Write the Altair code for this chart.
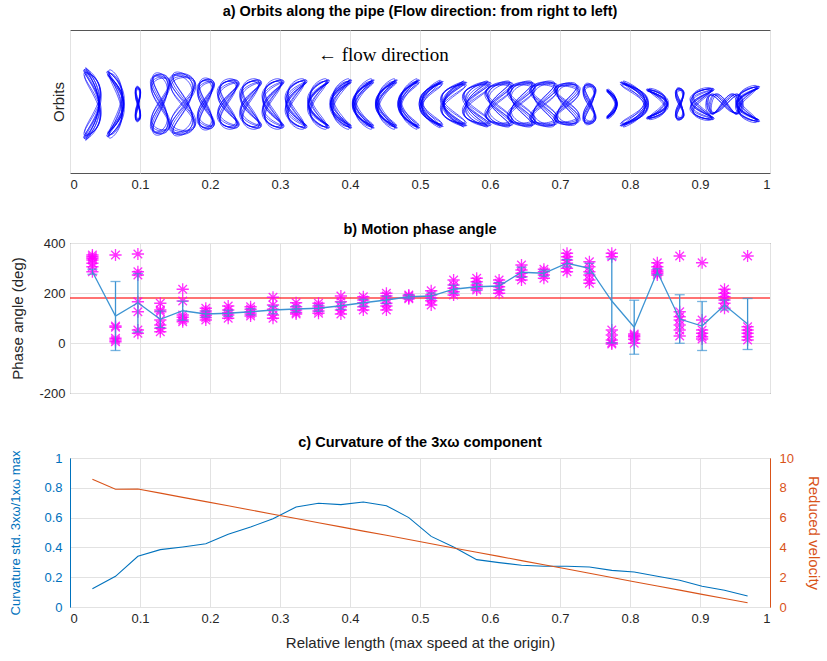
import altair as alt
import numpy as np
import pandas as pd

# ---------------- data ----------------
positions = [0.032, 0.065, 0.097, 0.129, 0.161, 0.194, 0.226, 0.258, 0.290, 0.323,
             0.355, 0.387, 0.419, 0.452, 0.484, 0.516, 0.548, 0.581, 0.613, 0.645,
             0.677, 0.710, 0.742, 0.774, 0.806, 0.839, 0.871, 0.903, 0.935, 0.968]

# b) phase angle: mean (blue line), half error bar, individual estimates (asterisks)
phase_mean = [285, 108, 161, 95, 129, 116, 119, 125, 132, 136,
              139, 149, 161, 172, 185, 188, 215, 225, 228, 283,
              279, 319, 299, 168, 63, 285, 96, 68, 152, 76]
phase_err = [10, 138, 117, 33, 38, 12, 12, 12, 15, 12,
             12, 14, 14, 15, 8, 12, 16, 14, 14, 20,
             12, 15, 20, 168, 108, 12, 97, 98, 20, 102]
phase_points = [
    [352, 345, 339, 332, 319, 305, 285],
    [352, 68, 63, 19, 12, 5],
    [356, 285, 272, 165, 125, 52, 39],
    [159, 132, 125, 92, 72, 59, 45],
    [215, 168, 112, 103, 92, 85],
    [139, 128, 119, 111, 102, 92],
    [148, 132, 121, 112, 99],
    [145, 135, 125, 116, 108],
    [183, 152, 135, 112, 99],
    [161, 145, 132, 122, 116],
    [159, 148, 139, 128, 119],
    [188, 165, 145, 132, 116],
    [185, 172, 161, 145, 132],
    [199, 188, 175, 159, 148, 132],
    [192, 188, 181, 177],
    [209, 192, 179, 169, 152],
    [252, 232, 219, 205, 192],
    [259, 245, 232, 219, 212],
    [252, 239, 225, 212, 199],
    [312, 292, 279, 265, 252],
    [295, 285, 272, 259],
    [359, 345, 332, 319, 299, 285],
    [325, 305, 285, 272, 252, 239],
    [359, 345, 52, 32, 12, 1, -4],
    [36, 30, 25, 15, -1],
    [321, 305, 292, 285, 279, 272],
    [348, 125, 105, 92, 72, 52, 28],
    [321, 92, 52, 39, 25, 16],
    [215, 199, 185, 172, 159, 139],
    [348, 65, 52, 39, 25, 12],
]
reference_angle = [180]

# c) curvature ratio (left axis) and reduced velocity (right axis)
curvature = [0.123, 0.206, 0.340, 0.385, 0.403, 0.425, 0.488, 0.537, 0.593, 0.671,
             0.696, 0.687, 0.705, 0.680, 0.600, 0.474, 0.403, 0.318, 0.298, 0.280,
             0.273, 0.273, 0.268, 0.246, 0.235, 0.206, 0.179, 0.139, 0.112, 0.074]
reduced_velocity = [8.57, 7.90, 7.92, 7.64, 7.36, 7.07, 6.79, 6.51, 6.22, 5.94,
                    5.66, 5.38, 5.09, 4.81, 4.53, 4.24, 3.96, 3.68, 3.40, 3.11,
                    2.83, 2.55, 2.26, 1.98, 1.70, 1.41, 1.13, 0.85, 0.57, 0.28]

# a) orbit shape read per station: half width (x units), half height (y units),
#    in-line / cross-flow phase (deg) and orientation of the 2:1 orbit
orbit_half_w = [0.0114, 0.0114, 0.0036, 0.0129, 0.0171, 0.0114, 0.0143, 0.0143, 0.0143, 0.0143,
                0.0143, 0.0143, 0.0143, 0.0143, 0.0143, 0.0157, 0.0171, 0.0186, 0.0186, 0.0186,
                0.0186, 0.0171, 0.0086, 0.0071, 0.0186, 0.0143, 0.0057, 0.0157, 0.0243, 0.0157]
orbit_half_h = [0.49, 0.46, 0.24, 0.42, 0.43, 0.35, 0.34, 0.34, 0.34, 0.34,
                0.34, 0.34, 0.34, 0.34, 0.34, 0.32, 0.31, 0.31, 0.31, 0.31,
                0.31, 0.29, 0.28, 0.20, 0.31, 0.21, 0.22, 0.22, 0.14, 0.25]
orbit_phase = [60, 100, 0, 0, 10, -20, -35, -45, -55, -65,
               -75, -85, -90, -90, -95, -100, -115, -130, -150, -160,
               -170, 180, 0, 90, 80, 100, 0, -60, 0, -75]
orbit_mode = ["v"] * 28 + ["h", "v"]
orbit_center_y = -0.035
cycle_sx = [1.00, 0.90, 1.06, 0.84, 0.96, 1.10, 0.78]
cycle_sy = [1.00, 0.95, 0.90, 1.04, 0.86, 0.98, 0.93]
cycle_shift = [0, 14, -10, 22, -18, 6, 30]

x_ticks = [0, 0.1, 0.2, 0.3, 0.4, 0.5, 0.6, 0.7, 0.8, 0.9, 1]

# ---------------- build tables ----------------
rows = []
tt = np.linspace(0, 2 * np.pi, 73)
for k, cx in enumerate(positions):
    for c, (sx, sy, sh) in enumerate(zip(cycle_sx, cycle_sy, cycle_shift)):
        th = np.radians(orbit_phase[k] + sh)
        if orbit_mode[k] == "v":
            xs = cx + sx * orbit_half_w[k] * np.sin(2 * tt + th)
            ys = orbit_center_y + sy * orbit_half_h[k] * np.sin(tt)
        else:
            xs = cx + sx * orbit_half_w[k] * np.sin(tt)
            ys = orbit_center_y + sy * orbit_half_h[k] * np.sin(2 * tt + th)
        for j in range(len(tt)):
            rows.append({"x": xs[j], "y": ys[j], "t": j, "cyc": f"{k}-{c}"})
orbit_df = pd.DataFrame(rows)

stat_df = pd.DataFrame({
    "pos": positions,
    "mean": phase_mean,
    "lo": [m - e for m, e in zip(phase_mean, phase_err)],
    "hi": [m + e for m, e in zip(phase_mean, phase_err)],
    "curv": curvature,
    "vel": reduced_velocity,
})
pts_df = pd.DataFrame([{"pos": p, "ang": a} for p, vals in zip(positions, phase_points) for a in vals])

FONT = "Liberation Sans"
TXT = "#262626"
BLUE = "#0072BD"
ORANGE = "#D95319"
ERR = "#3D94D3"
W = 700

xscale = alt.Scale(domain=[0, 1], nice=False, zero=False)


def x_axis(labels=True, title=None, min_extent=None):
    kw = dict(values=x_ticks, format="~g", grid=True, ticks=False, domain=False,
              labels=labels, labelPadding=5, title=title, titlePadding=10)
    if min_extent is not None:
        kw["minExtent"] = min_extent
    return alt.Axis(**kw)


# ---------------- panel a ----------------
orbits = alt.Chart(orbit_df).mark_line(strokeWidth=0.8, color="#0000FF", opacity=0.8).encode(
    x=alt.X("x:Q", scale=xscale, axis=x_axis()),
    y=alt.Y("y:Q", scale=alt.Scale(domain=[-1, 1], nice=False),
            axis=alt.Axis(title="Orbits", labels=False, ticks=False, grid=False, domain=False,
                          titlePadding=4)),
    detail="cyc:N",
    order="t:Q",
)
note = alt.Chart(pd.DataFrame({"x": [0.4476], "y": [0.65], "label": ["← flow direction"]})).mark_text(
    font="Liberation Serif", fontSize=19, color="black").encode(
    x=alt.X("x:Q", scale=xscale), y=alt.Y("y:Q"), text="label:N")
panel_a = alt.layer(orbits, note).properties(
    width=W, height=143,
    title=alt.TitleParams("a) Orbits along the pipe (Flow direction: from right to left)", offset=11))

# ---------------- panel b ----------------
yb = alt.Scale(domain=[-200, 400], nice=False)
ref = alt.Chart(pd.DataFrame({"a": reference_angle})).mark_rule(
    color="#FF0000", strokeWidth=2, opacity=0.55).encode(y=alt.Y("a:Q", scale=yb))
star_path = "M -1 0 L 1 0 M 0 -1 L 0 1 M -0.7 -0.7 L 0.7 0.7 M -0.7 0.7 L 0.7 -0.7"
stars = alt.Chart(pts_df).mark_point(shape=star_path, filled=False, size=150, strokeWidth=1.3,
                                     color="#FF00FF", opacity=0.8).encode(
    x=alt.X("pos:Q", scale=xscale, axis=x_axis(labels=False, min_extent=11)),
    y=alt.Y("ang:Q", scale=yb,
            axis=alt.Axis(values=[-200, 0, 200, 400], labelExpr="'' + datum.value",
                          title="Phase angle (deg)", grid=True,
                          ticks=False, domain=False, labelPadding=5, titlePadding=13)),
)
bars = alt.Chart(stat_df).mark_rule(color=ERR, strokeWidth=1.3).encode(
    x=alt.X("pos:Q", scale=xscale), y=alt.Y("lo:Q", scale=yb), y2="hi:Q")
cap_lo = alt.Chart(stat_df).mark_tick(color=ERR, orient="horizontal", size=10, thickness=1.3).encode(
    x=alt.X("pos:Q", scale=xscale), y=alt.Y("lo:Q", scale=yb))
cap_hi = alt.Chart(stat_df).mark_tick(color=ERR, orient="horizontal", size=10, thickness=1.3).encode(
    x=alt.X("pos:Q", scale=xscale), y=alt.Y("hi:Q", scale=yb))
mean_line = alt.Chart(stat_df).mark_line(color=ERR, strokeWidth=1.3).encode(
    x=alt.X("pos:Q", scale=xscale), y=alt.Y("mean:Q", scale=yb))
panel_b = alt.layer(ref, stars, bars, cap_lo, cap_hi, mean_line).properties(
    width=W, height=150, title=alt.TitleParams("b) Motion phase angle", offset=0))

# ---------------- panel c ----------------
curv_line = alt.Chart(stat_df).mark_line(color=BLUE, strokeWidth=1.1).encode(
    x=alt.X("pos:Q", scale=xscale,
            axis=x_axis(title="Relative length (max speed at the origin)")),
    y=alt.Y("curv:Q", scale=alt.Scale(domain=[0, 1], nice=False),
            axis=alt.Axis(orient="left", values=[0, 0.2, 0.4, 0.6, 0.8, 1], format="~g",
                          title="Curvature std. 3xω/1xω max", titleFontSize=13,
                          titleColor=BLUE, labelColor=BLUE, domainColor=BLUE, domain=True,
                          ticks=False, grid=True, labelPadding=8, titlePadding=21)),
)
vel_line = alt.Chart(stat_df).mark_line(color=ORANGE, strokeWidth=1.1).encode(
    x=alt.X("pos:Q", scale=xscale),
    y=alt.Y("vel:Q", scale=alt.Scale(domain=[0, 10], nice=False),
            axis=alt.Axis(orient="right", values=[0, 2, 4, 6, 8, 10], title="Reduced velocity",
                          titleColor=ORANGE, labelColor=ORANGE, domainColor=ORANGE, domain=True,
                          ticks=False, grid=False, labelPadding=9, titlePadding=12)),
)
panel_c = alt.layer(curv_line, vel_line).resolve_scale(y="independent").properties(
    width=W, height=149, title=alt.TitleParams("c) Curvature of the 3xω component", offset=0))

chart = alt.vconcat(panel_a, panel_b, panel_c, spacing=29).properties(
    padding={"left": 9, "top": 3, "right": 4, "bottom": 4}
).configure_axis(
    labelFont=FONT, titleFont=FONT, labelFontSize=13, titleFontSize=15,
    labelColor=TXT, titleColor=TXT, gridColor="#E2E2E2", titleFontWeight="normal",
).configure_title(
    font=FONT, fontSize=14.5, fontWeight="bold", color="black", anchor="middle",
).configure_view(stroke="#555555", strokeWidth=1)

chart.save("out.html", embed_options={"renderer": "svg", "actions": False})
